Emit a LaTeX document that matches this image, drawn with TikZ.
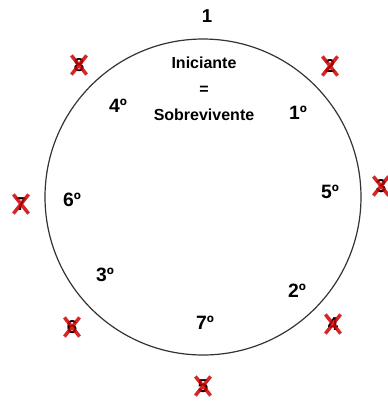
\documentclass[tikz,border=0pt]{standalone}
\usepackage{fontspec}
\setmainfont{Liberation Sans}
\usetikzlibrary{positioning}

\begin{document}
\begin{tikzpicture}[
  x=0.75pt, y=-0.75pt,
  num/.style={font=\fontsize{14}{16}\selectfont\bfseries, inner sep=0pt, minimum width=11pt, minimum height=14pt},
  ord/.style={font=\fontsize{14.5}{16}\selectfont\bfseries},
  regra/.style={font=\fontsize{12}{19.5}\selectfont\bfseries, align=center},
  xis/.style={draw=red!80!black, line width=2.6pt, opacity=0.85}
]
  \useasboundingbox (0,0) rectangle (388,405);
  \node[draw=black!80, line width=0.9pt, circle, minimum size=237pt] (roda) at (203,197) {};

  \node[regra] (lema) at (204,89) {Iniciante\\=\\Sobrevivente};

  % posicoes no circulo
  \node[num] (p1) at (207,16) {1};
  \node[num] (p2) at (330,66) {2};
  \node[num] (p3) at (381,186) {3};
  \node[num] (p4) at (333,324) {4};
  \node[num] (p5) at (203,386) {5};
  \node[num] (p6) at (72,327) {6};
  \node[num] (p7) at (21,204) {7};
  \node[num] (p8) at (79,65) {8};
  \foreach \n in {2,...,8}
    \draw[xis] (p\n.north west) -- (p\n.south east) (p\n.north east) -- (p\n.south west);

  % ordem de eliminacao
  \node[ord] (o1) at (298,113) {1º};
  \node[ord] (o2) at (297,291) {2º};
  \node[ord] (o3) at (105,275) {3º};
  \node[ord] (o4) at (118,106) {4º};
  \node[ord] (o5) at (330,192) {5º};
  \node[ord] (o6) at (72,200) {6º};
  \node[ord] (o7) at (205,323) {7º};
\end{tikzpicture}
\end{document}
